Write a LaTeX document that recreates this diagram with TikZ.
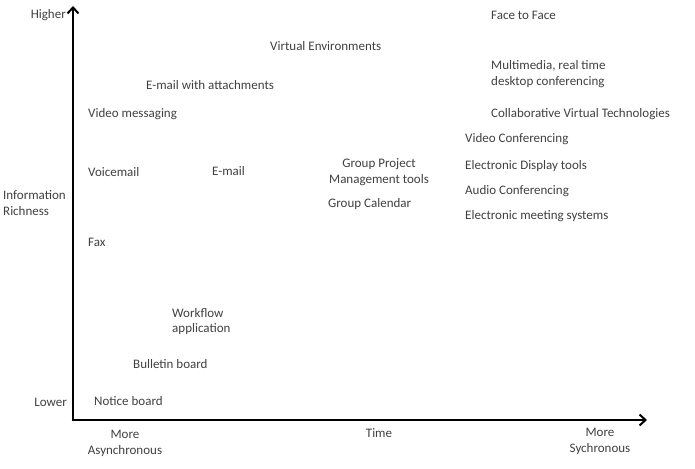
\documentclass[tikz,border=0pt]{standalone}
\usepackage{fontspec}
\setmainfont{Carlito}
\usetikzlibrary{arrows.meta}
\begin{document}
\begin{tikzpicture}[x=1pt,y=-1pt,
  lbl/.style={anchor=west,inner sep=0pt,yshift=-1.3pt,text=black!75,font=\fontsize{13}{15.5}\selectfont},
  lblc/.style={lbl,anchor=center,align=center},
  lbll/.style={lbl,align=left},
  axis/.style={line width=2.6pt,-{Straight Barb[length=6pt,width=11pt,line width=2pt]}}]
\useasboundingbox (0,0) rectangle (695,468);
\coordinate (o) at (73,420);
\coordinate (ytop) at (73,6);
\coordinate (xend) at (647,420);
\draw[axis] (o) -- (ytop);
\draw[axis] ([xshift=-1.3pt]o) -- (xend);
\node[lbl,anchor=east] (higher) at (66,14) {Higher};
\node[lbl,anchor=east] (lower) at (67,401) {Lower};
\node[lbll] (info) at (3,202) {Information\\Richness};
\node[lbl] (f2f) at (491,14) {Face to Face};
\node[lbl] (ve) at (270,45) {Virtual Environments};
\node[lbl] (ewa) at (146,84) {E-mail with attachments};
\node[lbll] (mm) at (491,73) {Multimedia, real time\\desktop conferencing};
\node[lbl] (vm) at (88,113) {Video messaging};
\node[lbl] (cvt) at (491,113) {Collaborative Virtual Technologies};
\node[lbl] (vc) at (465,138) {Video Conferencing};
\node[lbl] (voice) at (88,171) {Voicemail};
\node[lbl] (email) at (212,170) {E-mail};
\node[lblc] (gpm) at (379,171) {Group Project\\Management tools};
\node[lbl] (edt) at (465,165) {Electronic Display tools};
\node[lbl] (gc) at (328,203) {Group Calendar};
\node[lbl] (ac) at (465,190) {Audio Conferencing};
\node[lbl] (ems) at (465,215) {Electronic meeting systems};
\node[lbl] (fax) at (88,241) {Fax};
\node[lbll] (wf) at (172,320) {Workflow\\application};
\node[lbl] (bb) at (133,363) {Bulletin board};
\node[lbl] (nb) at (94,400) {Notice board};
\node[lblc] (async) at (125,442) {More\\Asynchronous};
\node[lblc] (time) at (379,432) {Time};
\node[lblc] (sync) at (600,440) {More\\Sychronous};
\end{tikzpicture}
\end{document}
